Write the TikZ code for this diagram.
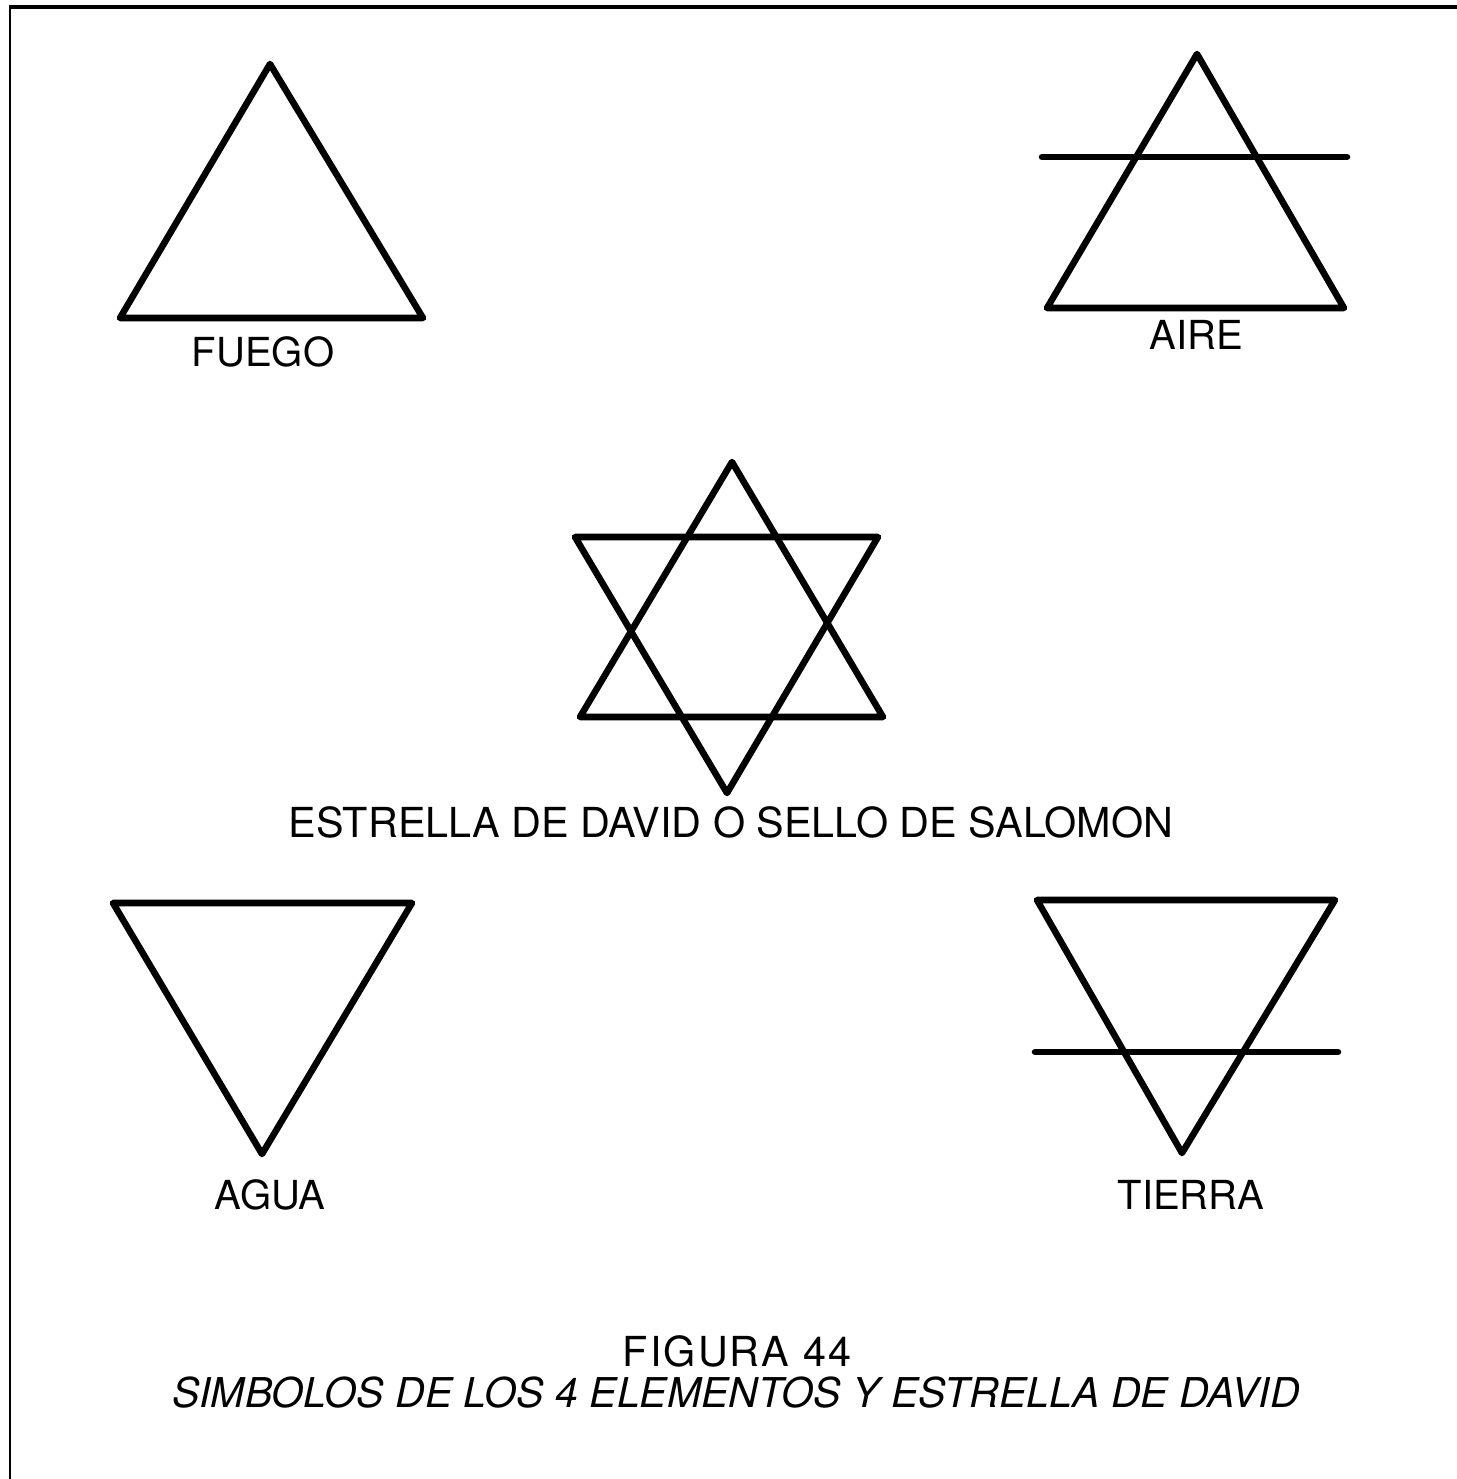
\documentclass[tikz,border=0pt]{standalone}
\usepackage{fontspec}
\setmainfont{TeX Gyre Heros}
\tikzset{every picture/.style={line width=0.75pt}}
\tikzset{
  elemline/.style={line width=4.9pt, line join=round, line cap=round},
  elemlabel/.style={inner sep=0pt, font=\fontsize{30}{35}\selectfont},
  captext/.style={inner sep=0pt, font=\fontsize{31}{36}\selectfont},
}

\begin{document}
\begin{tikzpicture}[x=0.75pt,y=0.75pt,yscale=-1,xscale=1]
\useasboundingbox (0,0) rectangle (1457,1479);

%Frame
\draw[line width=3pt] (10,6.5) -- (1457,6.5) ;
\draw[line width=1.9pt] (10,5) -- (10,1479) ;

%Shape: Triangle [fuego]
\draw[elemline] (270,64) -- (423,318) -- (120,318) -- cycle ;
\node[elemlabel] (fuego) at (263,352) {FUEGO};

%Shape: Triangle [aire]
\draw[elemline] (1197,54) -- (1344,308) -- (1047,308) -- cycle ;
%Straight Lines [aire]
\draw[elemline] (1042,157) -- (1347,157) ;
\node[elemlabel] (aire) at (1196,335) {AIRE};

%Shape: Triangle [estrella, up]
\draw[elemline] (732,462) -- (883,717) -- (580,717) -- cycle ;
%Shape: Triangle [estrella, down]
\draw[elemline] (575,537) -- (878,537) -- (727,793) -- cycle ;
\node[captext] (estrella) at (731,822) {ESTRELLA DE DAVID O SELLO DE SALOMON};

%Shape: Triangle [agua]
\draw[elemline] (113,903) -- (412,903) -- (262,1154) -- cycle ;
\node[elemlabel] (agua) at (270,1195) {AGUA};

%Shape: Triangle [tierra]
\draw[elemline] (1037,900) -- (1335,900) -- (1182,1153) -- cycle ;
%Straight Lines [tierra]
\draw[elemline] (1035,1052) -- (1338,1052) ;
\node[elemlabel] (tierra) at (1191,1195) {TIERRA};

%Caption
\node[captext, font=\fontsize{31}{36}\selectfont\addfontfeatures{LetterSpace=5}] (figura) at (737,1351) {FIGURA 44};
\node[captext, font=\fontsize{30.8}{36}\selectfont\itshape] (simbolos) at (736,1393) {SIMBOLOS DE LOS 4 ELEMENTOS Y ESTRELLA DE DAVID};

\end{tikzpicture}
\end{document}
